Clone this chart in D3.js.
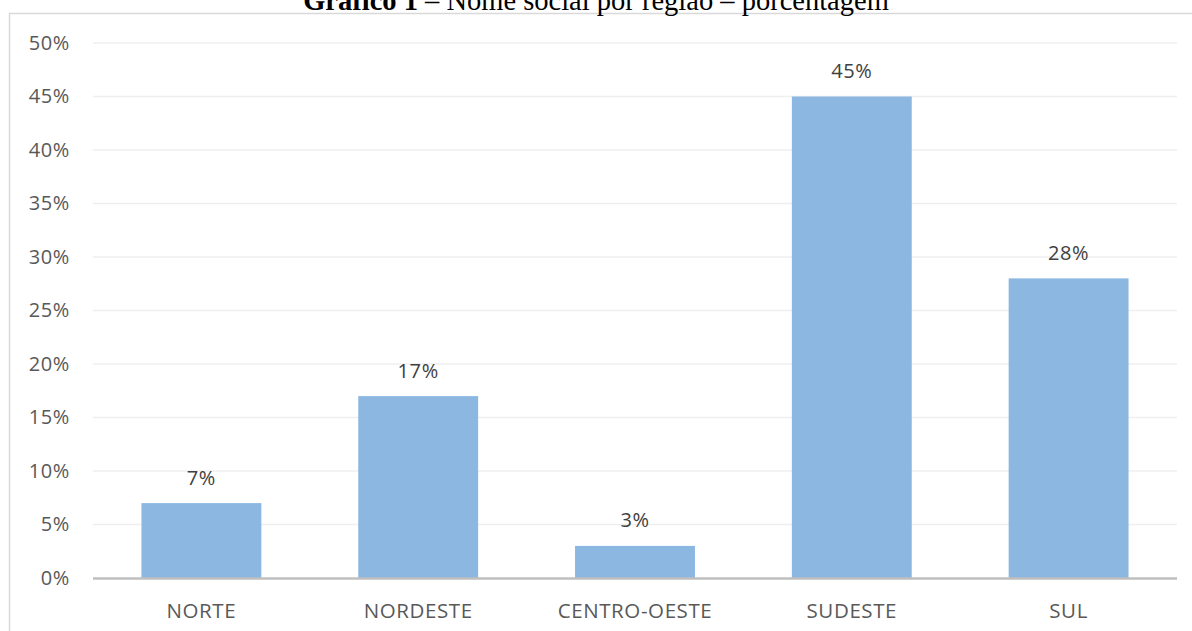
<!DOCTYPE html>
<html><head><meta charset="utf-8">
<script src="https://cdn.jsdelivr.net/npm/d3@7"></script>
<style>html,body{margin:0;padding:0;background:#fff;overflow:hidden}</style>
</head><body>
<svg id="c" width="1192" height="631"></svg>
<script>
const categories = ["NORTE","NORDESTE","CENTRO-OESTE","SUDESTE","SUL"];
const values = [7,17,3,45,28];
const yTicks = [0,5,10,15,20,25,30,35,40,45,50];

const svg = d3.select("#c");
const W = 1192, H = 631;
const m = {left:93, right:1177, top:43, bottom:578};

// outer border
svg.append("rect").attr("x",9.5).attr("y",13.5).attr("width",1192).attr("height",700)
  .attr("fill","none").attr("stroke","#d9d9d9").attr("stroke-width",1.5);

// title (clipped at top, as in the source)
const title = svg.append("text").attr("x",W/2).attr("y",10).attr("text-anchor","middle")
  .attr("font-family","'Liberation Serif', serif").attr("font-size",28.5).attr("fill","#000");
title.append("tspan").attr("font-weight","bold").text("Gráfico 1");
title.append("tspan").text(" – Nome social por região – porcentagem");

const x = d3.scaleBand().domain(categories).range([m.left,m.right]).paddingInner(0.447).paddingOuter(0.2235);
const y = d3.scaleLinear().domain([0,50]).range([m.bottom,m.top]);

// gridlines
svg.append("g").selectAll("line").data(yTicks.filter(d=>d>0)).join("line")
  .attr("x1",m.left).attr("x2",m.right).attr("y1",d=>y(d)).attr("y2",d=>y(d))
  .attr("stroke","#efefef").attr("stroke-width",1.5);

// y axis labels
const yAxis = d3.axisLeft(y).tickValues(yTicks).tickFormat(d=>d+"%").tickSize(0).tickPadding(0);
const ya = svg.append("g").attr("transform",`translate(70,0)`).call(yAxis);
ya.select(".domain").remove();
ya.selectAll("text").attr("font-family","'Open Sans', sans-serif").attr("font-size",20)
  .attr("fill","#595959").attr("letter-spacing","0.6px");

// bars
svg.append("g").selectAll("rect").data(values).join("rect")
  .attr("x",(d,i)=>x(categories[i])).attr("width",x.bandwidth())
  .attr("y",d=>y(d)).attr("height",d=>y(0)-y(d))
  .attr("fill","#8cb7e1");

// baseline
svg.append("line").attr("x1",m.left).attr("x2",m.right).attr("y1",y(0)+0.5).attr("y2",y(0)+0.5)
  .attr("stroke","#bfbfbf").attr("stroke-width",2.5);

// value labels
svg.append("g").selectAll("text").data(values).join("text")
  .attr("x",(d,i)=>x(categories[i])+x.bandwidth()/2).attr("y",d=>y(d)-18.5)
  .attr("text-anchor","middle").attr("font-family","'Open Sans', sans-serif").attr("font-size",20)
  .attr("fill","#404040").attr("letter-spacing","0.6px").text(d=>d+"%");

// x axis labels
const xAxis = d3.axisBottom(x).tickSize(0).tickPadding(0);
const xa = svg.append("g").attr("transform",`translate(0,${y(0)+25})`).call(xAxis);
xa.select(".domain").remove();
xa.selectAll("text").attr("font-family","'Open Sans', sans-serif").attr("font-size",20.5)
  .attr("fill","#595959").attr("letter-spacing","0.6px");
</script>
</body></html>
